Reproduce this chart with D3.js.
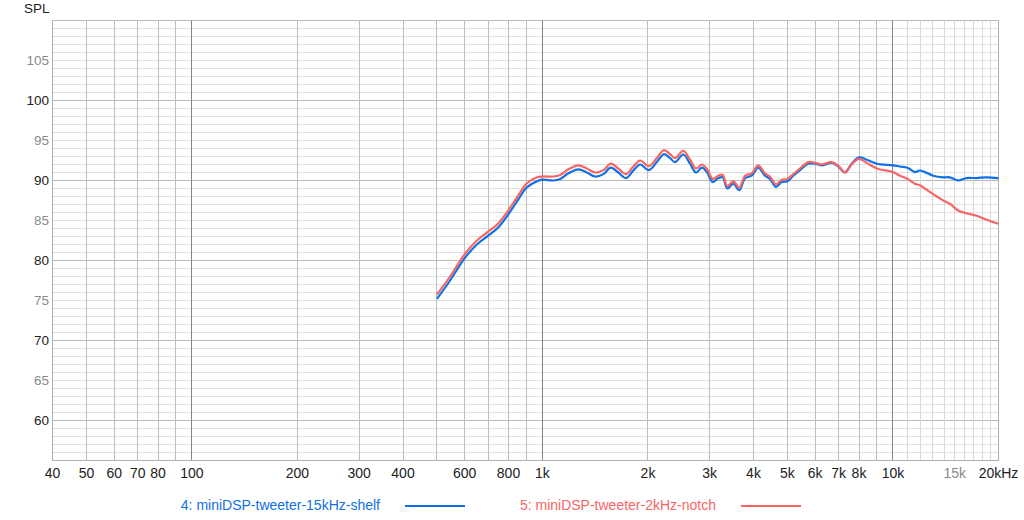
<!DOCTYPE html>
<html>
  <head>
    <meta charset="utf-8">
    <title>SPL</title>
    <style>
      body { margin: 0; background: #fff; }
      svg text { font-family: "Liberation Sans", Arial, sans-serif; }
    </style>
  </head>
  <body>
    <div id="chart"></div>
    <script src="https://cdn.jsdelivr.net/npm/d3@7"></script>
    <script>

    // frequency points (Hz) shared by both measurements
    var freqs = [500, 545, 600, 650, 700, 750, 800, 855, 900, 965,
      1000, 1075, 1123, 1186, 1266, 1338, 1413, 1492, 1566, 1646,
      1732, 1817, 1899, 2010, 2119, 2222, 2312, 2389, 2523, 2636,
      2742, 2850, 2950, 3060, 3174, 3267, 3368, 3504, 3644, 3784,
      3952, 4126, 4313, 4457, 4636, 4812, 5000, 5195, 5428, 5731,
      6000, 6260, 6685, 7000, 7293, 7621, 8000, 8409, 9000, 10000,
      10464, 11000, 11550, 11933, 12332, 13024, 13906, 14530, 15343, 16210,
      17313, 18487, 20000];

    // 4: miniDSP-tweeter-15kHz-shelf
    var shelf = [75.2, 77.5, 80.3, 82.0, 83.1, 84.2, 85.8, 87.7, 89.1, 89.9,
      90.1, 90.0, 90.2, 90.9, 91.4, 91.0, 90.5, 90.8, 91.6, 91.0,
      90.3, 91.25, 92.0, 91.3, 92.3, 93.3, 92.8, 92.3, 93.25, 92.1,
      91.0, 91.6, 91.0, 89.8, 90.3, 90.4, 89.0, 89.6, 88.8, 90.3,
      90.6, 91.6, 90.6, 90.2, 89.2, 89.8, 89.9, 90.6, 91.3, 92.1,
      92.1, 91.9, 92.2, 91.7, 91.0, 92.1, 92.9, 92.6, 92.1, 91.9,
      91.75, 91.6, 91.05, 91.25, 91.05, 90.6, 90.4, 90.4, 90.0, 90.3,
      90.3, 90.4, 90.3];

    // 5: miniDSP-tweeter-2kHz-notch
    var notch = [75.75, 78.0, 80.8, 82.5, 83.6, 84.7, 86.3, 88.2, 89.6, 90.4,
      90.5, 90.5, 90.7, 91.4, 91.9, 91.5, 91.0, 91.3, 92.1, 91.5,
      90.8, 91.75, 92.5, 91.8, 92.8, 93.8, 93.3, 92.8, 93.7, 92.6,
      91.5, 92.0, 91.4, 90.2, 90.6, 90.7, 89.3, 89.9, 89.1, 90.6,
      90.9, 91.9, 90.9, 90.5, 89.5, 90.1, 90.2, 90.8, 91.5, 92.3,
      92.2, 92.0, 92.3, 91.8, 91.0, 92.0, 92.7, 92.2, 91.5, 91.05,
      90.6, 90.2, 89.6, 89.4, 89.0, 88.3, 87.5, 87.1, 86.25, 85.9,
      85.6, 85.1, 84.6];

    var seriesNames = ["4: miniDSP-tweeter-15kHz-shelf", "5: miniDSP-tweeter-2kHz-notch"];
    var seriesColors = ["#0f70e8", "#f86565"];

    // axis ticks
    var xTickValues = [40, 50, 60, 70, 80, 100, 200, 300, 400, 600, 800,
      1000, 2000, 3000, 4000, 5000, 6000, 7000, 8000, 10000, 15000, 20000];
    var xTickLabels = ["40", "50", "60", "70", "80", "100", "200", "300", "400", "600", "800",
      "1k", "2k", "3k", "4k", "5k", "6k", "7k", "8k", "10k", "15k", "20kHz"];
    var yTickValues = [60, 65, 70, 75, 80, 85, 90, 95, 100, 105];

    var width = 1024, height = 520;
    var plotL = 52.5, plotR = 998.5, plotT = 20.5, plotB = 460.5;

    var x = d3.scaleLog().domain([40, 20000]).range([plotL, plotR]);
    var y = d3.scaleLinear().domain([55, 110]).range([plotB, plotT]);

    var svg = d3.select("#chart").append("svg")
      .attr("width", width)
      .attr("height", height);

    // vertical grid: every 1-9 x decade, plus 1k steps above 10k
    var vLines = [];
    [10, 100, 1000].forEach(function(dec) {
      for (var m = 1; m < 10; m++) {
        var f = dec * m;
        if (f >= 40) vLines.push(f);
      }
    });
    for (var k = 10000; k <= 20000; k += 1000) vLines.push(k);

    // horizontal grid every 1 dB
    var hLines = d3.range(55, 111, 1);

    var grid = svg.append("g");
    grid.selectAll(".hl").data(hLines).enter().append("line")
      .attr("x1", plotL).attr("x2", plotR)
      .attr("y1", function(d) { return Math.round(y(d) - 0.5) + 0.5; })
      .attr("y2", function(d) { return Math.round(y(d) - 0.5) + 0.5; })
      .attr("stroke", function(d) { return d % 10 == 0 ? "#b8b8b8" : "#e0e0e0"; })
      .attr("stroke-width", 1);

    grid.selectAll(".vl").data(vLines).enter().append("line")
      .attr("x1", function(d) { return Math.round(x(d) - 0.5) + 0.5; })
      .attr("x2", function(d) { return Math.round(x(d) - 0.5) + 0.5; })
      .attr("y1", plotT).attr("y2", plotB)
      .attr("stroke", function(d) {
        if (d == 100 || d == 1000 || d == 10000) return "#858585";
        if (d > 10000) return "#d8d8d8";
        return "#bfbfbf";
      })
      .attr("stroke-width", 1);

    // frame
    svg.append("line").attr("x1", plotL).attr("x2", plotL).attr("y1", plotT).attr("y2", plotB)
      .attr("stroke", "#b0b0b0");
    svg.append("line").attr("x1", plotR).attr("x2", plotR).attr("y1", plotT).attr("y2", plotB)
      .attr("stroke", "#b0b0b0");
    svg.append("line").attr("x1", plotL).attr("x2", plotR).attr("y1", plotB).attr("y2", plotB)
      .attr("stroke", "#b0b0b0");

    // y labels
    svg.selectAll(".ylab").data(yTickValues).enter().append("text")
      .attr("x", 49)
      .attr("y", function(d) { return y(d); })
      .attr("dy", "0.36em")
      .attr("text-anchor", "end")
      .attr("font-size", 13.5)
      .attr("fill", function(d) { return d % 10 == 0 ? "#222" : "#8a8a8a"; })
      .text(function(d) { return d; });

    svg.append("text")
      .attr("x", 24).attr("y", 13)
      .attr("font-size", 13.5)
      .attr("fill", "#222")
      .text("SPL");

    // x labels
    svg.selectAll(".xlab").data(xTickValues).enter().append("text")
      .attr("x", function(d) { return x(d); })
      .attr("y", 477.5)
      .attr("text-anchor", "middle")
      .attr("font-size", 14)
      .attr("fill", function(d) { return d == 15000 ? "#8a8a8a" : "#222"; })
      .text(function(d, i) { return xTickLabels[i]; });

    // curves
    var line = d3.line()
      .x(function(d) { return x(d[0]); })
      .y(function(d) { return y(d[1]); })
      .curve(d3.curveCatmullRom.alpha(0.5));

    [shelf, notch].forEach(function(vals, i) {
      svg.append("path")
        .datum(freqs.map(function(f, j) { return [f, vals[j]]; }))
        .attr("fill", "none")
        .attr("stroke", seriesColors[i])
        .attr("stroke-width", 2.2)
        .attr("stroke-linejoin", "round")
        .attr("d", line);
    });

    // legend
    var legendEnds = [380, 716];
    seriesNames.forEach(function(name, i) {
      svg.append("text")
        .attr("x", legendEnds[i])
        .attr("y", 505)
        .attr("dy", "0.36em")
        .attr("text-anchor", "end")
        .attr("font-size", 14)
        .attr("fill", seriesColors[i])
        .text(name);
      svg.append("line")
        .attr("x1", legendEnds[i] + 25).attr("x2", legendEnds[i] + 85)
        .attr("y1", 506).attr("y2", 506)
        .attr("stroke", seriesColors[i])
        .attr("stroke-width", 2.2);
    });

    </script>
  </body>
</html>
